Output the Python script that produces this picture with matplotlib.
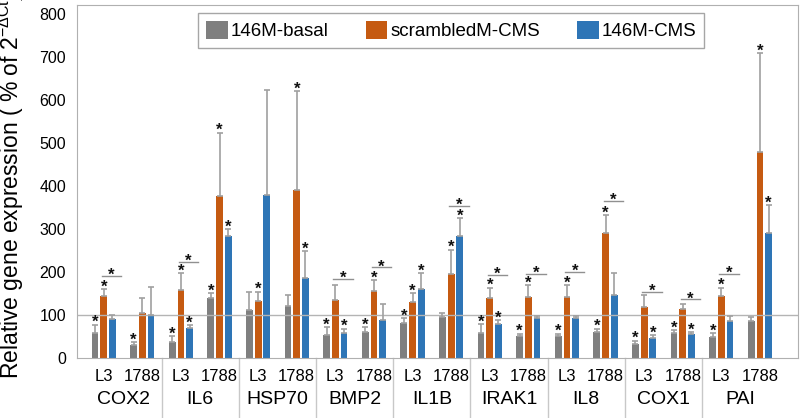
import matplotlib
matplotlib.use("Agg")
import matplotlib.pyplot as plt
import numpy as np

plt.rcParams['font.family'] = ['Liberation Sans', 'DejaVu Sans']
plt.rcParams['mathtext.fontset'] = 'custom'
plt.rcParams['mathtext.rm'] = 'Liberation Sans'
plt.rcParams['mathtext.it'] = 'Liberation Sans:italic'

genes = ["COX2", "IL6", "HSP70", "BMP2", "IL1B", "IRAK1", "IL8", "COX1", "PAI"]
cells = ["L3", "1788"]
series = ["146M-basal", "scrambledM-CMS", "146M-CMS"]
colors = ["#7f7f7f", "#c55a11", "#2e75b6"]

# order: gene by gene, L3 then 1788
basal = [59, 31, 39, 140, 112, 122, 53, 62, 83, 97, 59, 51, 51, 60, 33, 58, 49, 87]
basal_err = [19, 6, 12, 11, 41, 24, 19, 10, 10, 8, 21, 6, 6, 9, 8, 8, 10, 9]
scrambled = [144, 105, 159, 376, 134, 391, 136, 156, 131, 196, 139, 143, 143, 291, 119, 114, 145, 480]
scrambled_err = [17, 35, 39, 148, 21, 229, 34, 26, 20, 56, 25, 27, 27, 42, 28, 13, 19, 228]
cms = [91, 100, 71, 285, 378, 187, 58, 89, 161, 284, 80, 93, 93, 147, 48, 56, 87, 292]
cms_err = [9, 66, 6, 14, 245, 62, 11, 38, 36, 41, 9, 5, 5, 50, 6, 5, 11, 63]

# asterisk above each bar (1 = significant)
basal_sig = [1, 1, 1, 1, 0, 0, 1, 1, 1, 0, 1, 1, 1, 1, 1, 1, 1, 0]
scrambled_sig = [1, 0, 1, 1, 1, 1, 0, 1, 1, 1, 1, 1, 1, 1, 0, 0, 1, 1]
cms_sig = [0, 0, 1, 1, 0, 1, 1, 0, 1, 1, 1, 0, 0, 0, 1, 1, 0, 1]

# scrambledM-CMS vs 146M-CMS bracket height (None = no bracket)
bracket = [192, None, 224, None, None, None, 184, 211, None, 353,
           194, 196, 200, 365, 154, 137, 196, None]

x = np.arange(len(genes) * len(cells))
width = 0.175
step = 0.225
err_color = "#a0a0a0"

fig = plt.figure(figsize=(8, 4.18), dpi=100)
ax = fig.add_axes([0.09625, 0.1428, 0.90125, 0.8452])

groups = [(basal, basal_err, basal_sig), (scrambled, scrambled_err, scrambled_sig), (cms, cms_err, cms_sig)]
for k, (vals, errs, sigs) in enumerate(groups):
    pos = x + (k - 1) * step
    ax.bar(pos, vals, width, color=colors[k], label=series[k], zorder=2)
    ax.errorbar(pos, vals, yerr=[np.zeros(len(vals)), errs], fmt='none',
                ecolor=err_color, elinewidth=1.2, capsize=2.5, capthick=1.2, zorder=3)
    for p, v, e, s in zip(pos, vals, errs, sigs):
        if s:
            ax.annotate("*", xy=(p, v + e), xytext=(0, -1.8), textcoords="offset points",
                        ha="center", va="baseline", fontsize=12, fontweight="bold", color="#111111")

for xi, b in zip(x, bracket):
    if b is None:
        continue
    ax.plot([xi - 0.05, xi + 0.45], [b, b], color="#909090", lw=1, zorder=3)
    ax.annotate("*", xy=(xi + 0.2, b), xytext=(0, -2.9), textcoords="offset points",
                ha="center", va="baseline", fontsize=12, fontweight="bold", color="#111111")

ax.axhline(100, color="#b4b4b4", lw=1, zorder=2.5)

ax.set_xlim(-0.692, 17.985)
ax.set_ylim(0, 820)
ax.set_yticks(range(0, 801, 100))
ax.tick_params(axis="y", length=0, pad=8, labelsize=11.5)

ax.set_xticks(x)
ax.set_xticklabels(cells * len(genes), fontsize=12)
ax.tick_params(axis="x", length=0, pad=16.3)
plt.setp(ax.get_xticklabels(), va="baseline")

for g, name in enumerate(genes):
    ax.annotate(name, xy=(2 * g + 0.5, 0), xycoords=("data", "axes fraction"),
                xytext=(0, -32.8), textcoords="offset points",
                ha="center", va="baseline", fontsize=14)

for g in range(1, len(genes)):
    ax.plot([2 * g - 0.5, 2 * g - 0.5], [0, -0.169], transform=ax.get_xaxis_transform(),
            color="#c8c8c8", lw=1, clip_on=False)

for s in ax.spines.values():
    s.set_color("#b0b0b0")

ax.set_ylabel(r"Relative gene expression ( % of 2$^{\mathrm{-\Delta Ct}}$)", fontsize=16.5, va="center")
ax.yaxis.set_label_coords(-0.0915, 0.49)

leg = ax.legend(loc="upper center", bbox_to_anchor=(0.519, 0.977), ncol=3, fontsize=13.5,
                handlelength=1.15, handleheight=1.15, handletextpad=0.15, columnspacing=2.0,
                borderpad=0.4, borderaxespad=0, fancybox=False, framealpha=1, edgecolor="#a6a6a6")
leg.get_frame().set_linewidth(1)

fig.savefig("out.png", dpi=100)
